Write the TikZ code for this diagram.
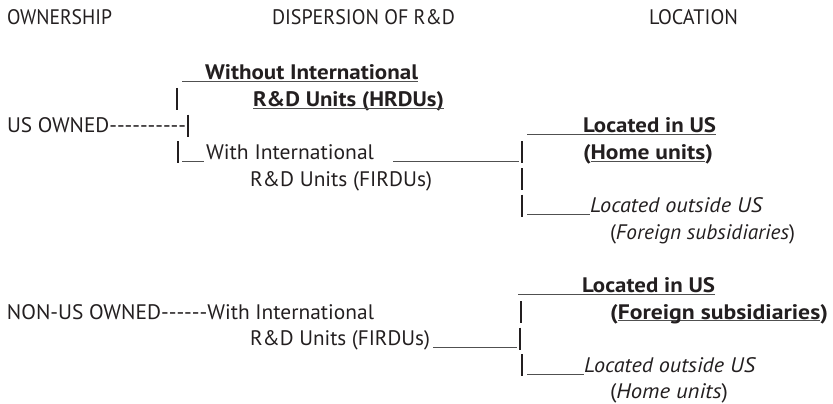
\documentclass[tikz,border=0pt]{standalone}
\usepackage{fontspec}
\usepackage{graphicx}
\setmainfont[Ligatures=TeXOff]{PT Sans}
\definecolor{ink}{HTML}{231F20}
\definecolor{rulegray}{HTML}{505050}
\newcommand\txtsize{\fontsize{21}{24}\selectfont}

% set #2 at a width of #1 pt, keeping its height
\newcommand\fitw[2]{\resizebox{#1pt}{\height}{#2}}
% underline that sits just under the baseline, whatever the descenders
\newcommand\ulw[1]{\setbox0\hbox{#1}\rlap{\color{rulegray}\rule[-2.4pt]{\wd0}{1pt}}\box0}

\tikzset{
  lbl/.style={anchor=base west, inner sep=0pt, outer sep=0pt, text=ink, font=\txtsize},
  bold/.style={lbl, font=\txtsize\bfseries},
  slant/.style={lbl, font=\txtsize\itshape},
  pipe/.style={draw=ink, line width=1.2pt},
  uline/.style={draw=rulegray, line width=1pt},
}

% a vertical bar of one text line, at x=#1 on the baseline y=#2
\newcommand\vbar[2]{\draw[pipe] (#1,#2-18) -- (#1,#2+4);}

\begin{document}
\begin{tikzpicture}[x=1pt,y=-1pt]
\useasboundingbox (0,0) rectangle (833,404);

% column headings
\node[lbl] (own)  at (7,24)   {\fitw{105}{OWNERSHIP}};
\node[lbl] (disp) at (272,24) {\fitw{183}{DISPERSION OF R\&D}};
\node[lbl] (loc)  at (649,24) {\fitw{89}{LOCATION}};

% ---- US owned firms ----
\node[bold] (wo) at (205,79.5) {\fitw{213}{Without International}};
\node[bold] (hr) at (253,106)  {\fitw{191}{R\&D Units (HRDUs)}};
\coordinate (woL) at (182,81.5);
\draw[uline] (woL) -- (wo.base east |- woL);
\draw[uline] ([yshift=-2.4pt]hr.base west) -- ([yshift=-2.4pt]hr.base east);
\vbar{177}{106}

\node[lbl] (us) at (7,132.7) {\fitw{179}{US OWNED----------}};
\vbar{188}{132.7}

\vbar{178}{159.3}
\coordinate (wiL) at (182,161);
\node[lbl] (wi) at (206,159.3) {\fitw{168}{With International}};
\draw[uline] (wiL) -- ([xshift=-2pt]wi.base west |- wiL);
\node[lbl] (fi) at (250,186) {\fitw{182}{R\&D Units (FIRDUs)}};

% where the FIRDUs of US owned firms are located
\coordinate (b1) at (522,161);
\draw[uline] (393,161) -- ([xshift=-3pt]b1);
\vbar{522}{159.3}
\vbar{522}{186}
\vbar{522}{212.5}

\node[bold] (lus) at (583,132.7) {\fitw{133}{Located in US}};
\coordinate (lusL) at (527,134.5);
\draw[uline] (lusL) -- (lus.base east |- lusL);

\node[bold] (home) at (583,159.3) {\fitw{130}{(\ulw{Home units})}};

\coordinate (losL) at (527,214);
\node[slant] (los) at (590,212.5) {\fitw{172}{Located outside US}};
\draw[uline] (losL) -- (los.base west |- losL);
\node[lbl] (fsub) at (610,239) {\fitw{185}{(\textit{Foreign subsidiaries})}};

% ---- non-US owned firms ----
\node[bold] (lus2) at (582,292.3) {\fitw{133}{Located in US}};
\coordinate (lus2L) at (518,294);
\draw[uline] (lus2L) -- (lus2.base east |- lus2L);
\vbar{521}{319}

\node[lbl] (non) at (7,319) {\fitw{367}{NON-US OWNED------With International}};
\node[bold] (fsub2) at (610,319) {\fitw{218}{(\ulw{Foreign subsidiaries})}};

\node[lbl] (fi2) at (250,345.5) {\fitw{180}{R\&D Units (FIRDUs)}};
\coordinate (b2) at (520,347);
\draw[uline] ([xshift=3pt]fi2.base east |- b2) -- ([xshift=-3pt]b2);
\vbar{520}{345.5}

\vbar{522}{372}
\coordinate (los2L) at (527,374);
\node[slant] (los2) at (584,372) {\fitw{171}{Located outside US}};
\draw[uline] (los2L) -- (los2.base west |- los2L);
\node[lbl] (home2) at (610,398.5) {\fitw{118}{(\textit{Home units})}};
\end{tikzpicture}
\end{document}
